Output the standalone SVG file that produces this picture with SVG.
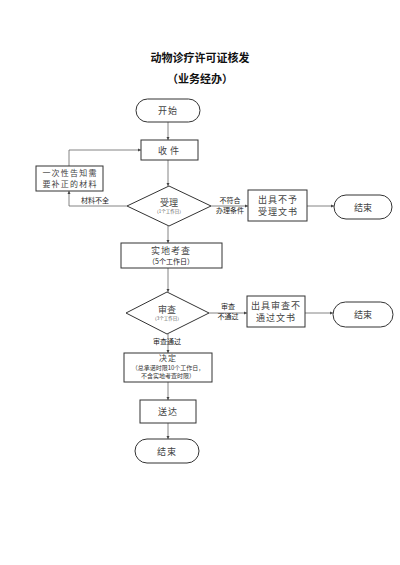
<svg xmlns="http://www.w3.org/2000/svg" width="400" height="565" viewBox="0 0 400 565">
<defs>
<marker id="arr" viewBox="0 0 6 6" refX="6" refY="3" markerWidth="4" markerHeight="4" orient="auto">
<path d="M0,0 L6,3 L0,6 z" fill="#444"/>
</marker>
<style>
.title{font-family:"Noto Sans CJK SC","Liberation Sans",sans-serif;font-weight:bold;font-size:11px;fill:#111;text-anchor:middle}
.t{font-family:"Noto Sans CJK SC","Liberation Sans",sans-serif;font-size:9px;fill:#444;text-anchor:middle}
.m{font-family:"Noto Sans CJK SC","Liberation Sans",sans-serif;font-size:8px;fill:#444;text-anchor:middle}
.s{font-family:"Noto Sans CJK SC","Liberation Sans",sans-serif;font-size:7px;fill:#222;text-anchor:middle}
.ss{font-family:"Noto Sans CJK SC","Liberation Sans",sans-serif;font-size:6px;fill:#333;text-anchor:middle}
.xs{font-family:"Noto Sans CJK SC","Liberation Sans",sans-serif;font-size:4.5px;fill:#555;text-anchor:middle}
.box{fill:#fff;stroke:#333;stroke-width:1}
.term{fill:#fff;stroke:#333;stroke-width:1}
.c{fill:none;stroke:#666;stroke-width:0.8;marker-end:url(#arr)}
</style>
</defs>
<rect width="400" height="565" fill="#fff"/>
<text class="title" x="200" y="62">动物诊疗许可证核发</text>
<text class="title" x="200" y="83">（业务经办）</text>

<g id="connectors">
<path class="c" d="M168,122 V140"/>
<path class="c" d="M168,160 V186"/>
<path class="c" d="M127,206 H69 V191"/>
<path class="c" d="M69,166 V150 H141"/>
<path class="c" d="M211,206 H248"/>
<path class="c" d="M307,206 H334"/>
<path class="c" d="M168,226 V243"/>
<path class="c" d="M168,268 V292"/>
<path class="c" d="M209,313 H247"/>
<path class="c" d="M305,313 H333"/>
<path class="c" d="M168,334 V353"/>
<path class="c" d="M168,382 V400"/>
<path class="c" d="M168,423 V439"/>
<text class="s" x="95" y="203">材料不全</text>
<text class="s" x="230" y="203">不符合</text>
<text class="s" x="230" y="213">办理条件</text>
<text class="s" x="228" y="309">审查</text>
<text class="s" x="228" y="319">不通过</text>
<text class="s" x="167" y="344">审查通过</text>
</g>

<g id="start">
<rect class="term" x="136" y="99" width="64" height="23" rx="11.5"/>
<text class="t" x="168" y="114" letter-spacing="1">开始</text>
</g>
<g id="receive">
<rect class="box" x="141" y="140" width="57" height="20"/>
<text class="t" x="170" y="153.5" letter-spacing="3">收件</text>
</g>
<g id="notify">
<rect class="box" x="36" y="166" width="67" height="25"/>
<text class="m" x="70" y="176" letter-spacing="1.2">一次性告知需</text>
<text class="m" x="70" y="187" letter-spacing="1.2">要补正的材料</text>
</g>
<g id="accept">
<polygon class="box" points="169,186 211,206 169,226 127,206"/>
<text class="t" x="169" y="206">受理</text>
<text class="xs" x="169" y="213">（1个工作日）</text>
</g>
<g id="reject1">
<rect class="box" x="248" y="190" width="59" height="31"/>
<text class="t" x="278" y="203" letter-spacing="1">出具不予</text>
<text class="t" x="278" y="215" letter-spacing="1">受理文书</text>
</g>
<g id="end1">
<rect class="term" x="334" y="195" width="58" height="24" rx="12"/>
<text class="t" x="363" y="210.5">结束</text>
</g>
<g id="inspect">
<rect class="box" x="121" y="243" width="101" height="25"/>
<text class="t" x="171" y="254" letter-spacing="1">实地考查</text>
<text class="s" x="171" y="264">（5个工作日）</text>
</g>
<g id="review">
<polygon class="box" points="167,292 209,313 167,334 126,313"/>
<text class="t" x="167" y="313">审查</text>
<text class="xs" x="167" y="320">（3个工作日）</text>
</g>
<g id="reject2">
<rect class="box" x="247" y="296" width="58" height="31"/>
<text class="t" x="276" y="309" letter-spacing="1">出具审查不</text>
<text class="t" x="276" y="321" letter-spacing="1">通过文书</text>
</g>
<g id="end2">
<rect class="term" x="333" y="302" width="60" height="25" rx="12.5"/>
<text class="t" x="363" y="317.5">结束</text>
</g>
<g id="decide">
<rect class="box" x="124" y="353" width="88" height="29"/>
<text class="m" x="168" y="361" letter-spacing="1">决定</text>
<text class="ss" x="168" y="369.5">（总承诺时限10个工作日，</text>
<text class="ss" x="168" y="377.5">不含实地考查时限）</text>
</g>
<g id="deliver">
<rect class="box" x="140" y="400" width="56" height="23"/>
<text class="t" x="168" y="414.5" letter-spacing="1">送达</text>
</g>
<g id="end3">
<rect class="term" x="135" y="439" width="64" height="24" rx="12"/>
<text class="t" x="167" y="454.5" letter-spacing="1">结束</text>
</g>
</svg>
